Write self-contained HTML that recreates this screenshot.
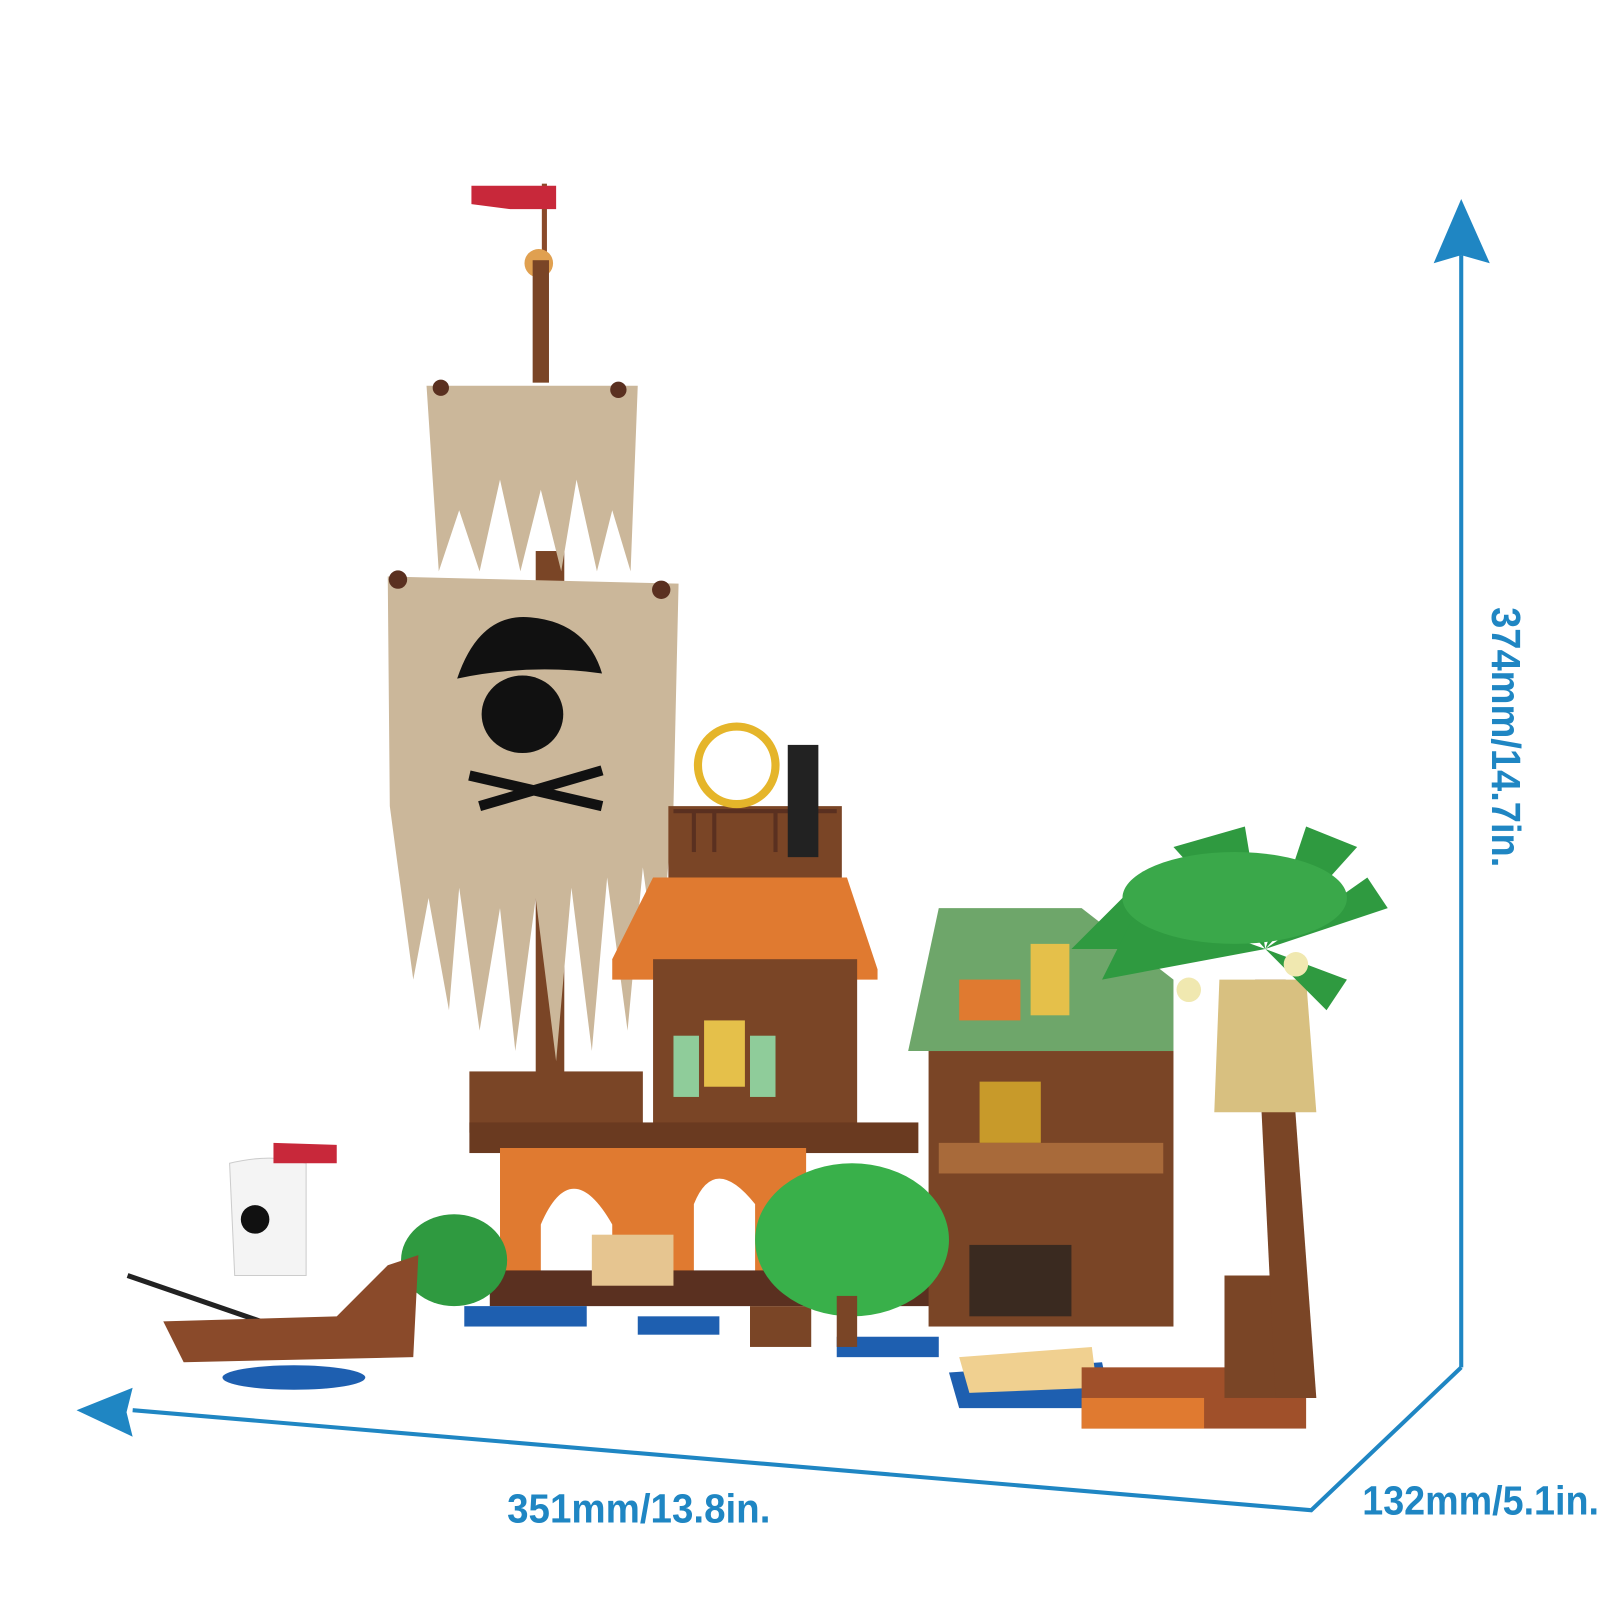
<!DOCTYPE html>
<html><head><meta charset="utf-8"><style>
html,body{margin:0;padding:0;background:#fff;}
svg{display:block;}
text{font-family:"Liberation Sans",sans-serif;font-weight:bold;fill:#1f86c3;}
</style></head><body>
<svg width="1600" height="1600" viewBox="0 0 1568 1568" xmlns="http://www.w3.org/2000/svg">
<rect width="1568" height="1568" fill="#fff"/>
<g stroke="#1f86c3" stroke-width="4" fill="none">
<line x1="1432" y1="250" x2="1432" y2="1340"/>
<polyline points="1432,1340 1285,1480 130,1382"/>
</g>
<polygon points="1432,195 1460,258 1432,250 1405,258" fill="#1f86c3"/>
<polygon points="75,1382 130,1360 124,1384 130,1408" fill="#1f86c3"/>
<text x="497" y="1492" font-size="40" textLength="258" lengthAdjust="spacingAndGlyphs">351mm/13.8in.</text>
<text x="1335" y="1484" font-size="40" textLength="232" lengthAdjust="spacingAndGlyphs">132mm/5.1in.</text>
<text transform="translate(1462,595) rotate(90)" font-size="40" textLength="255" lengthAdjust="spacingAndGlyphs">374mm/14.7in.</text>

<rect x="531" y="180" width="5" height="70" fill="#8a4a2a"/>
<polygon points="462,182 545,182 545,205 500,205 462,200" fill="#c8283a"/>
<circle cx="528" cy="258" r="14" fill="#e0a050"/>
<rect x="522" y="255" width="16" height="120" fill="#7a4526"/>
<rect x="525" y="540" width="28" height="520" fill="#7a4526"/>
<path d="M418,378 L625,378 L618,560 L600,500 L585,560 L565,470 L550,560 L530,480 L510,560 L490,470 L470,560 L450,500 L430,560 Z" fill="#cbb79a"/>
<circle cx="432" cy="380" r="8" fill="#5a3020"/><circle cx="606" cy="382" r="8" fill="#5a3020"/>
<path d="M380,565 L665,572 L660,790 L645,960 L630,850 L615,1010 L595,860 L580,1030 L560,870 L545,1040 L525,880 L505,1030 L490,890 L470,1010 L450,870 L440,990 L420,880 L405,960 L390,850 L382,790 Z" fill="#cbb79a"/>
<circle cx="390" cy="568" r="9" fill="#5a3020"/><circle cx="648" cy="578" r="9" fill="#5a3020"/>
<path d="M448,665 Q470,600 520,605 Q575,610 590,660 Q520,650 448,665 Z" fill="#111"/>
<ellipse cx="512" cy="700" rx="40" ry="38" fill="#111"/>
<line x1="460" y1="760" x2="590" y2="790" stroke="#111" stroke-width="10"/>
<line x1="470" y1="790" x2="590" y2="755" stroke="#111" stroke-width="10"/>

<rect x="655" y="790" width="170" height="70" fill="#7a4526"/>
<g stroke="#5a3020" stroke-width="4"><line x1="660" y1="795" x2="820" y2="795"/><line x1="680" y1="795" x2="680" y2="835"/><line x1="700" y1="795" x2="700" y2="835"/><line x1="760" y1="795" x2="760" y2="835"/></g>
<circle cx="722" cy="750" r="38" fill="none" stroke="#e5b52a" stroke-width="8"/>
<rect x="772" y="730" width="30" height="110" fill="#222"/>
<polygon points="600,940 640,860 830,860 860,950 860,960 600,960" fill="#e07a30"/>
<rect x="640" y="940" width="200" height="165" fill="#7a4526"/>
<rect x="690" y="1000" width="40" height="65" fill="#e5c04a"/>
<rect x="660" y="1015" width="25" height="60" fill="#8fcc9a"/>
<rect x="735" y="1015" width="25" height="60" fill="#8fcc9a"/>
<rect x="460" y="1050" width="170" height="60" fill="#7a4526"/>
<rect x="460" y="1100" width="440" height="30" fill="#6a3a20"/>
<path d="M490,1125 L790,1125 L790,1260 L740,1260 L740,1180 Q700,1130 680,1180 L680,1260 L600,1260 L600,1200 Q560,1130 530,1200 L530,1260 L490,1260 Z" fill="#e07a30"/>
<rect x="480" y="1245" width="520" height="35" fill="#5a3020"/>
<rect x="455" y="1280" width="120" height="20" fill="#1e5fb0"/>
<rect x="625" y="1290" width="80" height="18" fill="#1e5fb0"/>
<rect x="735" y="1280" width="60" height="40" fill="#7a4526"/>
<rect x="820" y="1310" width="100" height="20" fill="#1e5fb0"/>
<rect x="580" y="1210" width="80" height="50" fill="#e6c590"/>

<polygon points="890,1030 920,890 1060,890 1150,960 1150,1030" fill="#6ea66a"/>
<rect x="940" y="960" width="60" height="40" fill="#e07a30"/>
<rect x="1010" y="925" width="38" height="70" fill="#e5c04a"/>
<rect x="910" y="1030" width="240" height="270" fill="#7a4526"/>
<rect x="960" y="1060" width="60" height="60" fill="#c89a2a"/>
<rect x="920" y="1120" width="220" height="30" fill="#a86a3a"/>
<rect x="950" y="1220" width="100" height="70" fill="#3a2a20"/>
<polygon points="930,1345 1080,1335 1090,1380 940,1380" fill="#1e5fb0"/>
<polygon points="940,1330 1070,1320 1075,1360 950,1365" fill="#f0d090"/>
<rect x="1060" y="1340" width="220" height="60" fill="#a0502a"/>
<rect x="1060" y="1370" width="120" height="30" fill="#e07a30"/>
<rect x="1200" y="1250" width="80" height="120" fill="#7a4526"/>

<polygon points="1230,960 1260,960 1290,1370 1250,1370" fill="#7a4526"/>
<polygon points="1195,960 1280,960 1290,1090 1190,1090" fill="#d8c080"/>
<g fill="#2f9a40">
<polygon points="1240,930 1050,930 1100,880"/>
<polygon points="1240,930 1150,830 1220,810"/>
<polygon points="1240,930 1330,830 1280,810"/>
<polygon points="1240,930 1360,890 1340,860"/>
<polygon points="1240,930 1300,990 1320,960"/>
<polygon points="1240,930 1080,960 1110,900"/>
</g>
<ellipse cx="1210" cy="880" rx="110" ry="45" fill="#3aa84a"/>
<circle cx="1165" cy="970" r="12" fill="#f0e8b0"/><circle cx="1270" cy="945" r="12" fill="#f0e8b0"/>

<ellipse cx="445" cy="1235" rx="52" ry="45" fill="#2f9a40"/>
<ellipse cx="835" cy="1215" rx="95" ry="75" fill="#39b04a"/>
<rect x="820" y="1270" width="20" height="50" fill="#7a4526"/>

<path d="M225,1140 Q265,1130 300,1140 L300,1250 L230,1250 Z" fill="#f4f4f4" stroke="#ccc"/>
<circle cx="250" cy="1195" r="14" fill="#111"/>
<polygon points="268,1120 330,1122 330,1140 268,1140" fill="#c8283a"/>
<line x1="125" y1="1250" x2="270" y2="1300" stroke="#222" stroke-width="5"/>
<path d="M160,1295 L330,1290 L380,1240 L410,1230 L405,1330 L180,1335 Z" fill="#8a4a2a"/>
<ellipse cx="288" cy="1350" rx="70" ry="12" fill="#1e5fb0"/>
</svg>
</body></html>
